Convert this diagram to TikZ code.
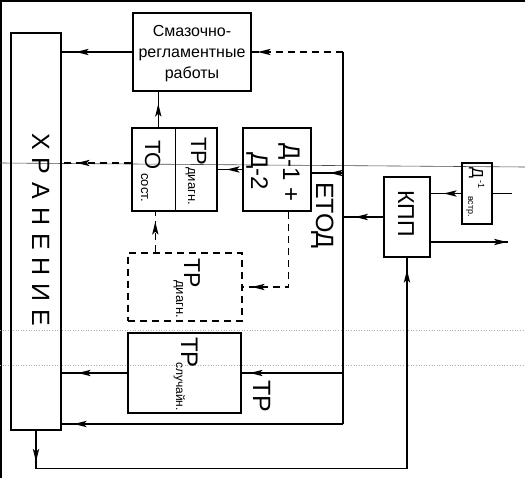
\documentclass[tikz,border=0pt]{standalone}
\usepackage{fontspec}
\setmainfont{Liberation Sans}
\usetikzlibrary{arrows.meta,decorations.markings,calc}
\newcommand{\arrtri}{\fill[solid] (0pt,0pt) -- (-13pt,3.2pt) -- (-10pt,0pt) -- (-13pt,-3.2pt) -- cycle;}
\tikzset{
  box/.style={draw, line width=1.4pt, inner sep=0pt, fill=none},
  dbox/.style={box, dash pattern=on 7pt off 5pt},
  conn/.style={line width=1.4pt},
  dconn/.style={conn, dash pattern=on 7pt off 5pt},
  tip/.style={postaction={decorate}, decoration={markings, mark=at position #1 with {\arrtri}}},
  rlab/.style={rotate=-90, anchor=base west, inner sep=0pt},
  scanline/.style={line width=0.6pt, black!70},
  faint/.style={line width=0.6pt, black!30, dotted},
}
\begin{document}
\begin{tikzpicture}[x=1pt,y=-1pt]
\useasboundingbox (0,0) rectangle (525,478);
\fill[white] (0,0) rectangle (525,478);
% scan frame and lines
\draw[line width=2.5pt] (0,1) -- (525,1);
\draw[line width=2.5pt] (1,0) -- (1,478);
\draw[scanline] (0,163) -- (525,167);
\draw[faint] (0,330) -- (525,330);
\draw[faint] (0,365) -- (525,365);

% boxes
\node[box, minimum width=50pt, minimum height=397pt] (hr) at (36,231.5) {};
\node[box, minimum width=118pt, minimum height=78pt] (sm) at (192,52) {};
\node[box, minimum width=85pt, minimum height=83pt] (to) at (174.5,169.5) {};
\node[box, minimum width=68pt, minimum height=83pt] (dd) at (277,169.5) {};
\node[dbox, minimum width=114pt, minimum height=68pt] (trd) at (185,287) {};
\node[box, minimum width=113pt, minimum height=80pt] (trs) at (184.5,373) {};
\node[box, minimum width=46pt, minimum height=80pt] (kpp) at (407,217) {};
\node[box, minimum width=30pt, minimum height=61pt] (dv) at (477,193.5) {};
\draw[line width=1.4pt] ([xshift=44pt]to.north west) -- ([xshift=44pt]to.south west);

% texts
\node[font=\fontsize{16}{21}\selectfont, align=center] (smt) at (192,54) {Смазочно-\\регламентные\\работы};
\node[rlab, font=\fontsize{25}{25}\selectfont] (hrt) at (32,133) {Х\hspace{8pt}Р\hspace{8pt}А\hspace{8pt}Н\hspace{8pt}Е\hspace{8pt}Н\hspace{8pt}И\hspace{8pt}Е};
\node[rlab, font=\fontsize{22}{22}\selectfont] (tot) at (145,140) {ТО};
\node[rlab, font=\fontsize{13}{13}\selectfont] (tos) at (141,173) {сост.};
\node[rlab, font=\fontsize{22}{22}\selectfont] (trt) at (191,137) {ТР};
\node[rlab, font=\fontsize{13}{13}\selectfont] (trts) at (188,167) {диагн.};
\node[rlab, font=\fontsize{24}{24}\selectfont] (d1) at (283,143) {Д-1 +};
\node[rlab, font=\fontsize{24}{24}\selectfont] (d2) at (251,152) {Д-2};
\node[rlab, font=\fontsize{23}{23}\selectfont] (trdt) at (184,258) {ТР};
\node[rlab, font=\fontsize{13}{13}\selectfont] (trds) at (176,280) {диагн.};
\node[rlab, font=\fontsize{24}{24}\selectfont] (trst) at (181,337) {ТР};
\node[rlab, font=\fontsize{12}{12}\selectfont] (trss) at (176,362) {случайн.};
\node[rlab, font=\fontsize{25}{25}\selectfont] (trin) at (253,380) {ТР};
\node[rlab, font=\fontsize{25}{25}\selectfont] (met) at (316,182) {ЕТОД};
\node[rlab, font=\fontsize{23}{23}\selectfont] (kppt) at (398,190) {КПП};
\node[rlab, font=\fontsize{16}{16}\selectfont] (dvt) at (472,167) {Д};
\node[rlab, font=\fontsize{9}{9}\selectfont] (dvs) at (478,180) {-1};
\node[rlab, font=\fontsize{9}{9}\selectfont] (dvb) at (468,196) {встр.};

% coordinates
\coordinate (vt) at (343,52);
\coordinate (vb) at (343,424);
\coordinate (inp) at (512,193.5);
\coordinate (outp) at (508,242);
\coordinate (dda) at ($(dd.east)+(0,3.5)$);
\coordinate (tow) at ($(to.west)+(0,-6.5)$);
\coordinate (ton) at ($(to.north west)+(27,0)$);
\coordinate (trdn) at ($(trd.north west)+(28,0)$);
\coordinate (dds) at ($(dd.south east)+(-23,0)$);
\coordinate (kppo) at ($(kpp.east)+(0,25)$);
\coordinate (bl) at ($(hr.south)+(0,38)$);

% connectors
\draw[conn, tip=-14pt] (sm.west) -- (sm.west -| hr.east);
\draw[dconn, tip=-6pt] (vt) -- (sm.east);
\draw[conn] (vt) -- (vb);
\draw[conn, tip=-12pt] (vb) -- (vb -| hr.east);
\draw[conn, tip=-12pt] (ton) -- (ton |- sm.south);
\draw[dconn, tip=-15pt] (tow) -- (tow -| hr.east);
\draw[conn, tip=-9pt] (dd.west) -- (dd.west -| to.east);
\draw[dconn, tip=-10pt] (trdn) -- (trdn |- to.south);
\draw[dconn, tip=-9pt] (dds) |- (trd.east);
\draw[conn, tip=-18pt] (vt |- dda) -- (dda);
\draw[conn, tip=-16pt] (trs.west) -- (trs.west -| hr.east);
\draw[conn, tip=-8pt] (vt |- trs.east) -- (trs.east);
\draw[conn, tip=-12pt] (kpp.west) -- (kpp.west -| vt);
\draw[conn, tip=-13pt] (dv.west) -- (kpp.east |- dv.west);
\draw[conn] (inp) -- (dv.east);
\draw[conn, tip=-1pt] (kppo) -- (outp);
\draw[conn, tip=-7pt] (hr.south) -- (bl);
\draw[conn, tip=-12pt] (bl) -| (kpp.south);
\end{tikzpicture}
\end{document}
